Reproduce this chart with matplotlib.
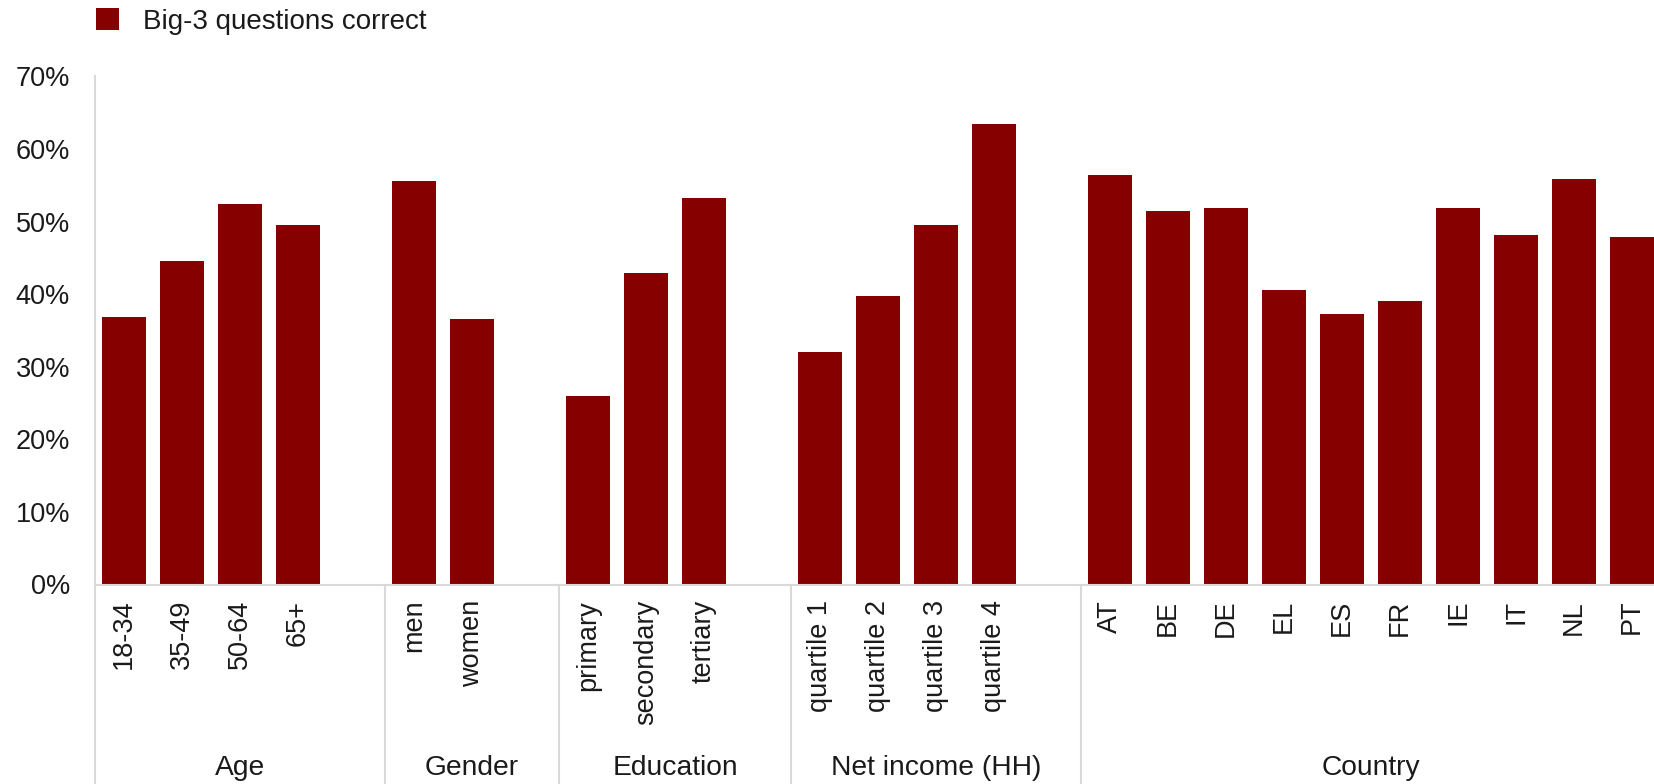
import matplotlib
matplotlib.use("Agg")
import matplotlib.pyplot as plt
from matplotlib.patches import Patch
from matplotlib.ticker import PercentFormatter

plt.rcParams['font.family'] = ['Liberation Sans', 'DejaVu Sans']

# Share of respondents answering the Big-3 questions correctly (%)
groups = ["Age", "Gender", "Education", "Net income (HH)", "Country"]
age_labels = ["18-34", "35-49", "50-64", "65+"]
age_values = [36.8, 44.5, 52.4, 49.5]
gender_labels = ["men", "women"]
gender_values = [55.6, 36.6]
education_labels = ["primary", "secondary", "tertiary"]
education_values = [26.0, 42.9, 53.2]
income_labels = ["quartile 1", "quartile 2", "quartile 3", "quartile 4"]
income_values = [32.0, 39.8, 49.5, 63.4]
country_labels = ["AT", "BE", "DE", "EL", "ES", "FR", "IE", "IT", "NL", "PT"]
country_values = [56.4, 51.5, 51.8, 40.5, 37.2, 39.1, 51.8, 48.1, 55.8, 47.9]

series_name = "Big-3 questions correct"
bar_color = "#860000"
line_color = "#d9d9d9"
text_color = "#1a1a1a"
fs = 19.5
fs_group = 20.3
fs_legend = 20

sub_labels = [age_labels, gender_labels, education_labels, income_labels, country_labels]
sub_values = [age_values, gender_values, education_values, income_values, country_values]

# Lay out the categories: each group is followed by one empty slot
positions, labels, values = [], [], []
group_spans = []
slot = 0
for gi, (labs, vals) in enumerate(zip(sub_labels, sub_values)):
    start = slot
    for lab, val in zip(labs, vals):
        positions.append(slot)
        labels.append(lab)
        values.append(val)
        slot += 1
    if gi < len(sub_labels) - 1:
        slot += 1
    group_spans.append((start - 0.5, slot - 0.5))

W, H = 1654, 784
left_px, slot_px = 95, 58
base_px, top_px = 584.5, 76.3
fig = plt.figure(figsize=(W / 100, H / 100), dpi=100)
ax = fig.add_axes([left_px / W, (H - base_px) / H, slot * slot_px / W, (base_px - top_px) / H])

ax.bar(positions, values, width=0.77, color=bar_color, label=series_name, zorder=2)

ax.set_xlim(-0.5, slot - 0.5)
ax.set_ylim(0, 70)
ax.yaxis.set_major_formatter(PercentFormatter(decimals=0))
ax.set_yticks(range(0, 71, 10))

for side in ["top", "right", "bottom"]:
    ax.spines[side].set_visible(False)
ax.spines["left"].set_color(line_color)
ax.spines["left"].set_linewidth(1.5)
ax.axhline(0, color=line_color, lw=1.5, zorder=3, clip_on=False)

ax.tick_params(axis="y", length=0, pad=18, labelsize=fs, labelcolor=text_color)
ax.set_xticks(positions)
ax.set_xticklabels(labels, rotation=90, va="top", ha="center")
ax.tick_params(axis="x", length=0, pad=11, labelsize=fs, labelcolor=text_color)

# Group separators and group names below the category labels
trans = ax.get_xaxis_transform()
ax_h = base_px - top_px
y_bottom = -(H - base_px) / ax_h
ax.plot([-0.5, -0.5], [0, y_bottom], transform=trans, color=line_color, lw=1.5, clip_on=False)
for (x0, x1), name in zip(group_spans, groups):
    if x1 < slot - 0.5:
        ax.plot([x1, x1], [0, y_bottom], transform=trans, color=line_color, lw=1.5, clip_on=False)
    ax.text((x0 + x1) / 2, -(768 - base_px) / ax_h, name, transform=trans,
            ha="center", va="center", fontsize=fs_group, color=text_color)

fig.legend(handles=[Patch(facecolor=bar_color, label=series_name)], loc="upper left",
           bbox_to_anchor=(96 / W, 1 - 8 / H), frameon=False, fontsize=fs_legend,
           handlelength=0.83, handleheight=0.83, handletextpad=0.86, borderpad=0,
           borderaxespad=0, labelcolor=text_color)

fig.savefig("out.png", dpi=100)
